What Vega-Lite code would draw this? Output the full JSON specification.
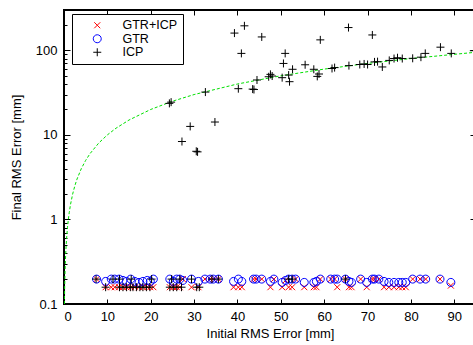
{
  "$schema": "https://vega.github.io/schema/vega-lite/v6.json",
  "width": 412,
  "height": 294,
  "autosize": {"type": "none"},
  "padding": {"left": 64, "top": 10, "right": 0, "bottom": 41},
  "config": {
    "view": {"stroke": "#000", "strokeWidth": 2},
    "font": "Liberation Sans",
    "axis": {"domain": false, "grid": false, "ticks": true, "tickColor": "#000", "tickWidth": 1,
      "labelFont": "Liberation Sans", "labelFontSize": 13, "labelColor": "#000",
      "titleFont": "Liberation Sans", "titleFontSize": 13, "titleFontWeight": "normal", "titleColor": "#000"}
  },
  "datasets": {
    "curve": [
      {"x": 0.1, "y": 0.1}, {"x": 0.12, "y": 0.12}, {"x": 0.15, "y": 0.15}, {"x": 0.2, "y": 0.2},
      {"x": 0.25, "y": 0.25}, {"x": 0.3, "y": 0.3}, {"x": 0.4, "y": 0.4}, {"x": 0.5, "y": 0.5},
      {"x": 0.6, "y": 0.6}, {"x": 0.8, "y": 0.8}, {"x": 1, "y": 1}, {"x": 1.2, "y": 1.2},
      {"x": 1.5, "y": 1.5}, {"x": 2, "y": 2}, {"x": 2.5, "y": 2.5}, {"x": 3, "y": 3},
      {"x": 4, "y": 4}, {"x": 5, "y": 5}, {"x": 6, "y": 6}, {"x": 8, "y": 8},
      {"x": 10, "y": 10}, {"x": 12, "y": 12}, {"x": 15, "y": 15}, {"x": 20, "y": 20},
      {"x": 25, "y": 25}, {"x": 30, "y": 30}, {"x": 40, "y": 40}, {"x": 50, "y": 50},
      {"x": 60, "y": 60}, {"x": 70, "y": 70}, {"x": 80, "y": 80}, {"x": 95, "y": 95}
    ],
    "pts": [
      {"x": 7.5, "y": 0.197, "m": "GTR+ICP"}, {"x": 9.6, "y": 0.158, "m": "GTR+ICP"}, {"x": 10.9, "y": 0.158, "m": "GTR+ICP"},
      {"x": 11.7, "y": 0.158, "m": "GTR+ICP"}, {"x": 12.7, "y": 0.158, "m": "GTR+ICP"}, {"x": 13.6, "y": 0.158, "m": "GTR+ICP"},
      {"x": 14.4, "y": 0.158, "m": "GTR+ICP"}, {"x": 15.4, "y": 0.158, "m": "GTR+ICP"}, {"x": 16.3, "y": 0.158, "m": "GTR+ICP"},
      {"x": 17.3, "y": 0.158, "m": "GTR+ICP"}, {"x": 18.2, "y": 0.158, "m": "GTR+ICP"}, {"x": 19.2, "y": 0.158, "m": "GTR+ICP"},
      {"x": 19.9, "y": 0.158, "m": "GTR+ICP"}, {"x": 20.6, "y": 0.158, "m": "GTR+ICP"}, {"x": 24.4, "y": 0.158, "m": "GTR+ICP"},
      {"x": 25.2, "y": 0.158, "m": "GTR+ICP"}, {"x": 26, "y": 0.158, "m": "GTR+ICP"}, {"x": 26.7, "y": 0.158, "m": "GTR+ICP"},
      {"x": 27.4, "y": 0.197, "m": "GTR+ICP"}, {"x": 29.4, "y": 0.158, "m": "GTR+ICP"}, {"x": 31, "y": 0.158, "m": "GTR+ICP"},
      {"x": 32.5, "y": 0.197, "m": "GTR+ICP"}, {"x": 33.7, "y": 0.197, "m": "GTR+ICP"}, {"x": 34.4, "y": 0.197, "m": "GTR+ICP"},
      {"x": 35.6, "y": 0.197, "m": "GTR+ICP"}, {"x": 39.1, "y": 0.158, "m": "GTR+ICP"}, {"x": 40.2, "y": 0.158, "m": "GTR+ICP"},
      {"x": 41, "y": 0.158, "m": "GTR+ICP"}, {"x": 43.7, "y": 0.197, "m": "GTR+ICP"}, {"x": 44.3, "y": 0.197, "m": "GTR+ICP"},
      {"x": 45.6, "y": 0.197, "m": "GTR+ICP"}, {"x": 47.6, "y": 0.158, "m": "GTR+ICP"}, {"x": 48.4, "y": 0.197, "m": "GTR+ICP"},
      {"x": 50.3, "y": 0.158, "m": "GTR+ICP"}, {"x": 51.1, "y": 0.19, "m": "GTR+ICP"}, {"x": 51.8, "y": 0.158, "m": "GTR+ICP"},
      {"x": 52.6, "y": 0.158, "m": "GTR+ICP"}, {"x": 53.4, "y": 0.197, "m": "GTR+ICP"}, {"x": 55.4, "y": 0.158, "m": "GTR+ICP"},
      {"x": 57.6, "y": 0.158, "m": "GTR+ICP"}, {"x": 58.2, "y": 0.158, "m": "GTR+ICP"}, {"x": 59.1, "y": 0.197, "m": "GTR+ICP"},
      {"x": 61.5, "y": 0.197, "m": "GTR+ICP"}, {"x": 62.4, "y": 0.197, "m": "GTR+ICP"}, {"x": 63, "y": 0.158, "m": "GTR+ICP"},
      {"x": 64.9, "y": 0.197, "m": "GTR+ICP"}, {"x": 65.7, "y": 0.158, "m": "GTR+ICP"}, {"x": 66.3, "y": 0.158, "m": "GTR+ICP"},
      {"x": 68.4, "y": 0.197, "m": "GTR+ICP"}, {"x": 69.8, "y": 0.158, "m": "GTR+ICP"}, {"x": 71.1, "y": 0.197, "m": "GTR+ICP"},
      {"x": 71.6, "y": 0.197, "m": "GTR+ICP"}, {"x": 72.6, "y": 0.197, "m": "GTR+ICP"}, {"x": 73.8, "y": 0.158, "m": "GTR+ICP"},
      {"x": 74.9, "y": 0.158, "m": "GTR+ICP"}, {"x": 76.1, "y": 0.158, "m": "GTR+ICP"}, {"x": 77.2, "y": 0.158, "m": "GTR+ICP"},
      {"x": 78, "y": 0.158, "m": "GTR+ICP"}, {"x": 78.8, "y": 0.158, "m": "GTR+ICP"}, {"x": 80.4, "y": 0.197, "m": "GTR+ICP"},
      {"x": 82.1, "y": 0.197, "m": "GTR+ICP"}, {"x": 83.4, "y": 0.197, "m": "GTR+ICP"}, {"x": 86.7, "y": 0.197, "m": "GTR+ICP"},
      {"x": 89.2, "y": 0.165, "m": "GTR+ICP"},

      {"x": 7.5, "y": 0.197, "m": "GTR"}, {"x": 9.6, "y": 0.185, "m": "GTR"}, {"x": 10.9, "y": 0.197, "m": "GTR"},
      {"x": 11.7, "y": 0.197, "m": "GTR"}, {"x": 12.7, "y": 0.197, "m": "GTR"}, {"x": 13.6, "y": 0.19, "m": "GTR"},
      {"x": 14.4, "y": 0.185, "m": "GTR"}, {"x": 15.4, "y": 0.197, "m": "GTR"}, {"x": 16.3, "y": 0.185, "m": "GTR"},
      {"x": 17.3, "y": 0.18, "m": "GTR"}, {"x": 18.2, "y": 0.185, "m": "GTR"}, {"x": 19.2, "y": 0.19, "m": "GTR"},
      {"x": 19.9, "y": 0.185, "m": "GTR"}, {"x": 20.6, "y": 0.197, "m": "GTR"}, {"x": 24.4, "y": 0.197, "m": "GTR"},
      {"x": 25.2, "y": 0.185, "m": "GTR"}, {"x": 26, "y": 0.197, "m": "GTR"}, {"x": 26.7, "y": 0.197, "m": "GTR"},
      {"x": 27.4, "y": 0.19, "m": "GTR"}, {"x": 29.4, "y": 0.197, "m": "GTR"}, {"x": 31, "y": 0.185, "m": "GTR"},
      {"x": 32.5, "y": 0.197, "m": "GTR"}, {"x": 33.7, "y": 0.197, "m": "GTR"}, {"x": 34.4, "y": 0.197, "m": "GTR"},
      {"x": 35.6, "y": 0.197, "m": "GTR"}, {"x": 39.1, "y": 0.185, "m": "GTR"}, {"x": 40.2, "y": 0.197, "m": "GTR"},
      {"x": 41, "y": 0.185, "m": "GTR"}, {"x": 43.7, "y": 0.197, "m": "GTR"}, {"x": 44.3, "y": 0.197, "m": "GTR"},
      {"x": 45.6, "y": 0.197, "m": "GTR"}, {"x": 47.6, "y": 0.185, "m": "GTR"}, {"x": 48.4, "y": 0.197, "m": "GTR"},
      {"x": 50.3, "y": 0.18, "m": "GTR"}, {"x": 51.1, "y": 0.19, "m": "GTR"}, {"x": 51.8, "y": 0.197, "m": "GTR"},
      {"x": 52.6, "y": 0.197, "m": "GTR"}, {"x": 53.4, "y": 0.197, "m": "GTR"}, {"x": 55.4, "y": 0.18, "m": "GTR"},
      {"x": 57.6, "y": 0.18, "m": "GTR"}, {"x": 58.2, "y": 0.185, "m": "GTR"}, {"x": 59.1, "y": 0.197, "m": "GTR"},
      {"x": 61.5, "y": 0.197, "m": "GTR"}, {"x": 62.4, "y": 0.197, "m": "GTR"}, {"x": 63, "y": 0.197, "m": "GTR"},
      {"x": 64.9, "y": 0.197, "m": "GTR"}, {"x": 65.7, "y": 0.185, "m": "GTR"}, {"x": 66.3, "y": 0.18, "m": "GTR"},
      {"x": 68.4, "y": 0.197, "m": "GTR"}, {"x": 69.8, "y": 0.18, "m": "GTR"}, {"x": 71.1, "y": 0.197, "m": "GTR"},
      {"x": 71.6, "y": 0.197, "m": "GTR"}, {"x": 72.6, "y": 0.197, "m": "GTR"}, {"x": 73.8, "y": 0.185, "m": "GTR"},
      {"x": 74.9, "y": 0.18, "m": "GTR"}, {"x": 76.1, "y": 0.18, "m": "GTR"}, {"x": 77.2, "y": 0.18, "m": "GTR"},
      {"x": 78, "y": 0.18, "m": "GTR"}, {"x": 78.8, "y": 0.18, "m": "GTR"}, {"x": 80.4, "y": 0.197, "m": "GTR"},
      {"x": 82.1, "y": 0.197, "m": "GTR"}, {"x": 83.4, "y": 0.197, "m": "GTR"}, {"x": 86.7, "y": 0.197, "m": "GTR"},
      {"x": 89.2, "y": 0.18, "m": "GTR"},

      {"x": 7.4, "y": 0.197, "m": "ICP"}, {"x": 11.3, "y": 0.197, "m": "ICP"}, {"x": 12.8, "y": 0.197, "m": "ICP"},
      {"x": 15.5, "y": 0.197, "m": "ICP"}, {"x": 20.2, "y": 0.197, "m": "ICP"}, {"x": 24.8, "y": 0.197, "m": "ICP"},
      {"x": 26.7, "y": 0.197, "m": "ICP"}, {"x": 29.4, "y": 0.197, "m": "ICP"}, {"x": 34.1, "y": 0.197, "m": "ICP"},
      {"x": 35.6, "y": 0.197, "m": "ICP"}, {"x": 51.8, "y": 0.197, "m": "ICP"}, {"x": 52.6, "y": 0.197, "m": "ICP"},
      {"x": 64.9, "y": 0.197, "m": "ICP"},
      {"x": 9.6, "y": 0.158, "m": "ICP"}, {"x": 12.8, "y": 0.158, "m": "ICP"}, {"x": 13.6, "y": 0.158, "m": "ICP"},
      {"x": 14.4, "y": 0.158, "m": "ICP"}, {"x": 15.3, "y": 0.158, "m": "ICP"}, {"x": 15.9, "y": 0.158, "m": "ICP"},
      {"x": 16.7, "y": 0.158, "m": "ICP"}, {"x": 17.5, "y": 0.158, "m": "ICP"}, {"x": 18.2, "y": 0.158, "m": "ICP"},
      {"x": 19, "y": 0.158, "m": "ICP"}, {"x": 19.8, "y": 0.158, "m": "ICP"}, {"x": 24.4, "y": 0.158, "m": "ICP"},
      {"x": 25.2, "y": 0.158, "m": "ICP"}, {"x": 26, "y": 0.158, "m": "ICP"}, {"x": 27.1, "y": 0.158, "m": "ICP"},
      {"x": 30.6, "y": 0.158, "m": "ICP"}, {"x": 31.2, "y": 0.158, "m": "ICP"},
      {"x": 24.3, "y": 23.6, "m": "ICP"}, {"x": 24.7, "y": 24.4, "m": "ICP"}, {"x": 27.2, "y": 8.35, "m": "ICP"},
      {"x": 29.1, "y": 12.6, "m": "ICP"}, {"x": 30.5, "y": 6.4, "m": "ICP"}, {"x": 30.8, "y": 6.3, "m": "ICP"},
      {"x": 32.6, "y": 32.1, "m": "ICP"}, {"x": 34.8, "y": 14.2, "m": "ICP"}, {"x": 39.3, "y": 160, "m": "ICP"},
      {"x": 40.2, "y": 35.2, "m": "ICP"}, {"x": 40.9, "y": 92, "m": "ICP"}, {"x": 41.6, "y": 195, "m": "ICP"},
      {"x": 43.5, "y": 34.8, "m": "ICP"}, {"x": 43.8, "y": 34.4, "m": "ICP"}, {"x": 44.5, "y": 44.6, "m": "ICP"},
      {"x": 45.6, "y": 144, "m": "ICP"}, {"x": 47.2, "y": 48.7, "m": "ICP"}, {"x": 47.6, "y": 52, "m": "ICP"},
      {"x": 48, "y": 49.7, "m": "ICP"}, {"x": 50.3, "y": 47.5, "m": "ICP"}, {"x": 50.6, "y": 70, "m": "ICP"},
      {"x": 51, "y": 92, "m": "ICP"}, {"x": 51.8, "y": 51, "m": "ICP"}, {"x": 52, "y": 42.6, "m": "ICP"},
      {"x": 52.7, "y": 59.7, "m": "ICP"}, {"x": 55.6, "y": 67.5, "m": "ICP"}, {"x": 57.6, "y": 59.7, "m": "ICP"},
      {"x": 58.4, "y": 49.2, "m": "ICP"}, {"x": 58.8, "y": 52.5, "m": "ICP"}, {"x": 59.1, "y": 133, "m": "ICP"},
      {"x": 61.8, "y": 61, "m": "ICP"}, {"x": 62.4, "y": 62.5, "m": "ICP"}, {"x": 65.6, "y": 186, "m": "ICP"},
      {"x": 65.7, "y": 66, "m": "ICP"}, {"x": 68.2, "y": 68, "m": "ICP"}, {"x": 69.2, "y": 69, "m": "ICP"},
      {"x": 70, "y": 68, "m": "ICP"}, {"x": 71.1, "y": 152, "m": "ICP"}, {"x": 71.6, "y": 73, "m": "ICP"},
      {"x": 72.3, "y": 73.5, "m": "ICP"}, {"x": 73.4, "y": 63.6, "m": "ICP"}, {"x": 75, "y": 76, "m": "ICP"},
      {"x": 76.1, "y": 80, "m": "ICP"}, {"x": 76.9, "y": 81.8, "m": "ICP"}, {"x": 78, "y": 80, "m": "ICP"},
      {"x": 80.4, "y": 80.5, "m": "ICP"}, {"x": 82.3, "y": 83, "m": "ICP"}, {"x": 83.3, "y": 92, "m": "ICP"},
      {"x": 86.8, "y": 109, "m": "ICP"}, {"x": 89.3, "y": 92, "m": "ICP"}, {"x": 94.5, "y": 99, "m": "ICP"}
    ]
  },
  "layer": [
    {
      "data": {"name": "curve"},
      "mark": {"type": "line", "color": "#00e000", "strokeDash": [3, 2], "strokeWidth": 1, "clip": true},
      "encoding": {
        "x": {"field": "x", "type": "quantitative", "scale": {"domain": [0, 95], "nice": false, "zero": false},
          "axis": {"orient": "bottom", "values": [0, 10, 20, 30, 40, 50, 60, 70, 80, 90], "tickSize": -5, "labelPadding": 11, "title": "Initial RMS Error [mm]", "titlePadding": 4}},
        "y": {"field": "y", "type": "quantitative", "scale": {"type": "log", "domain": [0.1, 300], "nice": false},
          "axis": {"orient": "left", "values": [0.1, 1, 10, 100], "format": "~g", "tickSize": -6, "labelPadding": 13, "title": "Final RMS Error [mm]", "titlePadding": 12}}
      }
    },
    {
      "data": {"name": "pts"},
      "mark": {"type": "point", "filled": false, "strokeWidth": 1, "size": 100, "opacity": 1, "clip": true},
      "encoding": {
        "x": {"field": "x", "type": "quantitative", "axis": {"orient": "top", "values": [0, 10, 20, 30, 40, 50, 60, 70, 80, 90], "tickSize": -5, "labels": false, "title": null}},
        "y": {"field": "y", "type": "quantitative", "axis": {"orient": "right", "values": [0.1, 1, 10, 100], "tickSize": -6, "labels": false, "title": null}},
        "color": {"field": "m", "type": "nominal", "scale": {"domain": ["GTR+ICP", "GTR", "ICP"], "range": ["#ff0000", "#0000ff", "#000000"]},
          "legend": {"orient": "none", "legendX": 8, "legendY": 4, "title": null, "strokeColor": "#000", "fillColor": "#fff", "padding": 5, "symbolOffset": 14, "labelOffset": 19, "labelFontSize": 12.5, "labelFont": "Liberation Sans", "labelColor": "#000", "symbolSize": 100, "symbolStrokeWidth": 1, "rowPadding": 0.5}},
        "shape": {"field": "m", "type": "nominal", "scale": {"domain": ["GTR+ICP", "GTR", "ICP"], "range": ["M-0.6,-0.6L0.6,0.6M0.6,-0.6L-0.6,0.6", "M0.8,0A0.8,0.8,0,1,1,-0.8,0A0.8,0.8,0,1,1,0.8,0Z", "M-0.8,0L0.8,0M0,-0.8L0,0.8"]}}
      }
    },
    {
      "data": {"name": "curve"},
      "mark": {"type": "point", "opacity": 0},
      "encoding": {
        "x": {"field": "x", "type": "quantitative", "axis": null},
        "y": {"field": "y", "type": "quantitative", "axis": {"orient": "left", "values": [0.2, 0.3, 0.4, 0.5, 0.6, 0.7, 0.8, 0.9, 2, 3, 4, 5, 6, 7, 8, 9, 20, 30, 40, 50, 60, 70, 80, 90, 200], "tickSize": -3, "labels": false, "title": null}}
      }
    },
    {
      "data": {"name": "curve"},
      "mark": {"type": "point", "opacity": 0},
      "encoding": {
        "x": {"field": "x", "type": "quantitative", "axis": null},
        "y": {"field": "y", "type": "quantitative", "axis": {"orient": "right", "values": [0.2, 0.3, 0.4, 0.5, 0.6, 0.7, 0.8, 0.9, 2, 3, 4, 5, 6, 7, 8, 9, 20, 30, 40, 50, 60, 70, 80, 90, 200], "tickSize": -3, "labels": false, "title": null}}
      }
    }
  ],
  "resolve": {"axis": {"x": "independent", "y": "independent"}}
}
